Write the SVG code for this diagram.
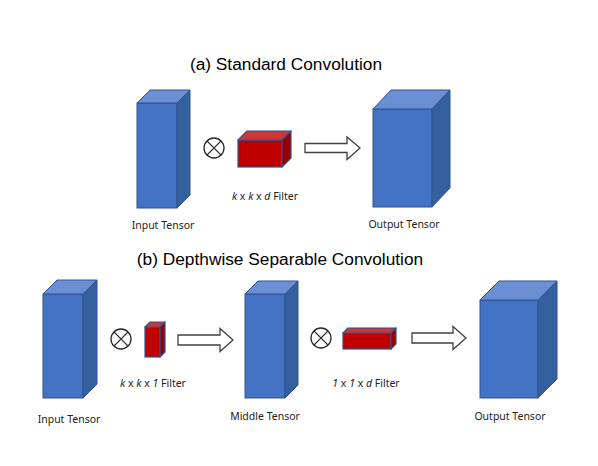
<svg xmlns="http://www.w3.org/2000/svg" width="598" height="466" viewBox="0 0 598 466">
<style>
.front{fill:#4472C4;stroke:#2F528F;stroke-width:1}
.top{fill:#6A8FD2;stroke:#2F528F;stroke-width:1;stroke-linejoin:round}
.side{fill:#35609F;stroke:#2F528F;stroke-width:1;stroke-linejoin:round}
.rfront{fill:#C00000;stroke:#2F528F;stroke-width:1.2}
.rtop{fill:#D03636;stroke:#2F528F;stroke-width:1.2;stroke-linejoin:round}
.rside{fill:#990000;stroke:#2F528F;stroke-width:1.2;stroke-linejoin:round}
.arrow{fill:#FFFFFF;stroke:#404040;stroke-width:1.3;stroke-linejoin:miter}
.op{fill:none;stroke:#262626;stroke-width:1.3}
.title{font-family:"Liberation Sans",Arial,sans-serif;font-size:17.3px;fill:#000;text-anchor:middle}
.lbl{font-family:"Noto Sans","Open Sans",sans-serif;font-size:10.5px;fill:#222;text-anchor:middle}
.it{font-style:italic}
</style>
<rect x="0" y="0" width="598" height="466" fill="#FFFFFF"/>

<text class="title" x="286" y="69.5">(a) Standard Convolution</text>
<text class="title" x="280" y="264.5">(b) Depthwise Separable Convolution</text>

<!-- (a) -->
<g id="input-a">
<rect class="front" x="137" y="103" width="40" height="105"/>
<polygon class="top" points="137,103 150,90 190,90 177,103"/>
<polygon class="side" points="177,103 190,90 190,195 177,208"/>
<text class="lbl" x="163" y="229">Input Tensor</text>
</g>
<g id="op-a">
<circle class="op" cx="214" cy="148" r="10"/>
<path class="op" d="M206.9,140.9 L221.1,155.1 M221.1,140.9 L206.9,155.1"/>
</g>
<g id="filter-a">
<rect class="rfront" x="238" y="140" width="44" height="27"/>
<polygon class="rtop" points="238,140 247,131 291,131 282,140"/>
<polygon class="rside" points="282,140 291,131 291,158 282,167"/>
<text class="lbl" x="265" y="199.5"><tspan class="it">k</tspan> x <tspan class="it">k</tspan> x <tspan class="it">d</tspan> Filter</text>
</g>
<g id="output-a">
<rect class="front" x="373" y="109" width="59" height="98"/>
<polygon class="top" points="373,109 391,90 450,90 432,109"/>
<polygon class="side" points="432,109 450,90 450,188 432,207"/>
<text class="lbl" x="404" y="228">Output Tensor</text>
</g>

<!-- (b) -->
<g id="input-b">
<rect class="front" x="43" y="294" width="40" height="104"/>
<polygon class="top" points="43,294 57,280 97,280 83,294"/>
<polygon class="side" points="83,294 97,280 97,384 83,398"/>
<text class="lbl" x="69" y="423">Input Tensor</text>
</g>
<g id="op-b1">
<circle class="op" cx="121" cy="339" r="10"/>
<path class="op" d="M113.9,331.9 L128.1,346.1 M128.1,331.9 L113.9,346.1"/>
</g>
<g id="filter-b1">
<rect class="rfront" x="145" y="327" width="15" height="30"/>
<polygon class="rtop" points="145,327 150,322 165,322 160,327"/>
<polygon class="rside" points="160,327 165,322 165,352 160,357"/>
<text class="lbl" x="153" y="387"><tspan class="it">k</tspan> x <tspan class="it">k</tspan> x <tspan class="it">1</tspan> Filter</text>
</g>
<g id="middle-b">
<rect class="front" x="245" y="294" width="40" height="104"/>
<polygon class="top" points="245,294 258,281 298,281 285,294"/>
<polygon class="side" points="285,294 298,281 298,385 285,398"/>
<text class="lbl" x="265" y="420">Middle Tensor</text>
</g>
<g id="op-b2">
<circle class="op" cx="321" cy="338" r="10"/>
<path class="op" d="M313.9,330.9 L328.1,345.1 M328.1,330.9 L313.9,345.1"/>
</g>
<g id="filter-b2">
<rect class="rfront" x="343" y="333" width="48" height="16"/>
<polygon class="rtop" points="343,333 348,328 396,328 391,333"/>
<polygon class="rside" points="391,333 396,328 396,344 391,349"/>
<text class="lbl" x="366" y="387"><tspan class="it">1</tspan> x <tspan class="it">1</tspan> x <tspan class="it">d</tspan> Filter</text>
</g>
<g id="output-b">
<rect class="front" x="480" y="300" width="58" height="98"/>
<polygon class="top" points="480,300 499,281 557,281 538,300"/>
<polygon class="side" points="538,300 557,281 557,379 538,398"/>
<text class="lbl" x="510" y="420">Output Tensor</text>
</g>

<g id="connectors">
<polygon class="arrow" points="305,143.5 347,143.5 347,137 360,148 347,159.5 347,152.5 305,152.5"/>
<polygon class="arrow" points="178,335 220,335 220,328.5 233,340 220,351.5 220,345 178,345"/>
<polygon class="arrow" points="412,333 453,333 453,326.5 466,338 453,349.5 453,343 412,343"/>
</g>
</svg>
